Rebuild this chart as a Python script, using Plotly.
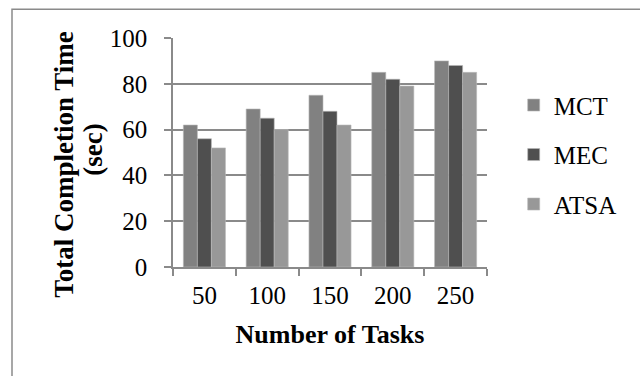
import plotly.graph_objects as go

# Task counts on the x axis and completion times (seconds) per scheduler
tasks = ["50", "100", "150", "200", "250"]
mct = [62, 69, 75, 85, 90]
mec = [56, 65, 68, 82, 88]
atsa = [52, 60, 62, 79, 85]

series = [("MCT", mct, "#818181"), ("MEC", mec, "#4f4f4f"), ("ATSA", atsa, "#989898")]

FONT = "Liberation Serif, Times New Roman, serif"
GRID = "#8a8a8a"

# plot area in pixels, used to place the frame and the y title in paper units
L, R, T, B = 173, 487, 38.3, 267.3
PW, PH = R - L, B - T


def px_x(px):
    return (px - L) / PW


def px_y(py):
    return (B - py) / PH


fig = go.Figure()
for name, vals, color in series:
    fig.add_trace(go.Bar(
        x=tasks, y=vals, name=name,
        marker=dict(color=color, line=dict(color="#b8b8b8", width=0.6)),
        legendgroup=name,
    ))

fig.update_layout(
    width=640, height=376,
    margin=dict(l=L, r=640 - R, t=T, b=376 - B),
    paper_bgcolor="white", plot_bgcolor="white",
    barmode="group", bargap=0.33, bargroupgap=0,
    font=dict(family=FONT, size=25, color="black"),
    showlegend=True,
    legend=dict(
        x=1.085, xanchor="left", y=0.49, yanchor="middle",
        font=dict(family=FONT, size=25, color="black"),
        tracegroupgap=14, traceorder="grouped",
        bgcolor="rgba(0,0,0,0)",
        itemwidth=30,
    ),
    xaxis=dict(
        showgrid=False, showline=True, linecolor=GRID, linewidth=1.5,
        ticks="outside", tickson="boundaries", ticklen=7, tickcolor=GRID, tickwidth=1.5,
        ticklabelstandoff=5,
        tickfont=dict(family=FONT, size=25),
        title=dict(text="<b>Number of Tasks</b>", font=dict(family=FONT, size=26), standoff=17),
        automargin=False,
    ),
    yaxis=dict(
        range=[0, 100], dtick=20,
        showgrid=True, gridcolor=GRID, gridwidth=1.5,
        showline=True, linecolor=GRID, linewidth=1.5,
        ticks="outside", ticklen=7, tickcolor=GRID, tickwidth=1.5,
        ticklabelstandoff=12,
        tickfont=dict(family=FONT, size=25),
        zeroline=False,
        automargin=False,
    ),
    annotations=[
        dict(text="<b>Total Completion Time</b>", textangle=-90,
             xref="paper", yref="paper", x=px_x(64), y=px_y(165),
             xanchor="center", yanchor="middle", showarrow=False,
             font=dict(family=FONT, size=27)),
        dict(text="<b>(sec)</b>", textangle=-90,
             xref="paper", yref="paper", x=px_x(93), y=px_y(150),
             xanchor="center", yanchor="middle", showarrow=False,
             font=dict(family=FONT, size=27)),
    ],
    shapes=[dict(
        type="rect", xref="paper", yref="paper",
        x0=px_x(12), x1=px_x(660), y0=px_y(400), y1=px_y(9.5),
        line=dict(color="#8a8a8a", width=1.5), fillcolor="rgba(0,0,0,0)", layer="below",
    )],
)

fig.write_html("out.html")
